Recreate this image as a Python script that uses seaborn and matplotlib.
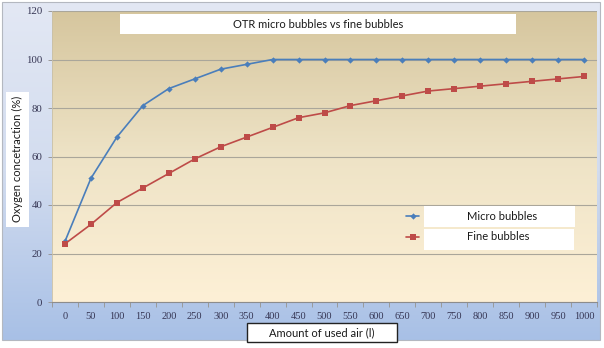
import numpy as np
import pandas as pd
import matplotlib
matplotlib.use('Agg')
import matplotlib.pyplot as plt
import seaborn as sns
from matplotlib.patches import Rectangle
from matplotlib.colors import LinearSegmentedColormap
from matplotlib.ticker import FixedLocator

# ---------------- data ----------------
air = list(range(0, 1001, 50))
micro = [25, 51, 68, 81, 88, 92, 96, 98, 100, 100, 100, 100, 100, 100, 100,
         100, 100, 100, 100, 100, 100]
fine = [24, 32, 41, 47, 53, 59, 64, 68, 72, 76, 78, 81, 83, 85, 87, 88, 89,
        90, 91, 92, 93]
series_names = ['Micro bubbles', 'Fine bubbles']
title = 'OTR micro bubbles vs fine bubbles'
xlabel = 'Amount of used air (l)'
ylabel = 'Oxygen concetraction (%)'
yticks = [0, 20, 40, 60, 80, 100, 120]
xtick_labels = [str(v) for v in air]

df = pd.DataFrame({
    'air': air * 2,
    'value': micro + fine,
    'series': [series_names[0]] * len(air) + [series_names[1]] * len(air),
})

sns.set_theme(style='white')
plt.rcParams['font.family'] = ['Lato', 'DejaVu Sans']

W, H = 604, 348
fig = plt.figure(figsize=(W / 100, H / 100), dpi=100)
fig.patch.set_facecolor('white')


def fx(px):
    return px / W


def fy(py):
    return 1 - py / H


# background of chart frame
bg = fig.add_axes([0, 0, 1, 1], zorder=-10)
bg.set_xlim(0, W)
bg.set_ylim(H, 0)
bg.axis('off')
grad = np.linspace(0, 1, 256).reshape(-1, 1)
cmap_bg = LinearSegmentedColormap.from_list('bg', ['#e3e8f4', '#d2dcef', '#a8c0e6'])
bg.imshow(grad, cmap=cmap_bg, extent=[2, 600, 340, 2], aspect='auto', origin='upper')
bg.add_patch(Rectangle((2, 2), 598, 338, fill=False, edgecolor='#b4b8c0', lw=0.8))
bg.set_xlim(0, W)
bg.set_ylim(H, 0)

# plot area
ax = fig.add_axes([fx(52), fy(302), fx(597) - fx(52), (302 - 11) / H])
ax.set_facecolor('none')
cmap_plot = LinearSegmentedColormap.from_list('pl', ['#d6c69e', '#eee3c6', '#fdf0d6'])
ax.imshow(grad, cmap=cmap_plot, extent=[0, 1, 0, 1], transform=ax.transAxes,
          aspect='auto', origin='upper', zorder=0)

palette = {series_names[0]: '#4a7ebb', series_names[1]: '#be4b48'}
sns.lineplot(data=df, x='air', y='value', hue='series', style='series',
             markers={series_names[0]: 'D', series_names[1]: 's'},
             dashes=False, palette=palette, ax=ax, linewidth=1.2,
             markeredgewidth=0, legend=True)
for ln in ax.lines:
    if ln.get_color() == '#4a7ebb':
        ln.set_markersize(3.2)
    else:
        ln.set_markersize(4.5)

handles, labels = ax.get_legend_handles_labels()
ax.get_legend().remove()

ax.set_xlim(-25, 1025)
ax.set_ylim(0, 120)
ax.set_xticks(air)
ax.set_xticklabels(xtick_labels)
ax.xaxis.set_minor_locator(FixedLocator([a - 25 for a in air] + [1025]))
ax.set_yticks(yticks)
ax.set_xlabel('')
ax.set_ylabel('')
ax.yaxis.grid(True, color='#aaa69a', lw=0.8)
ax.xaxis.grid(False)
ax.set_axisbelow(True)
tick_font = ['Liberation Serif', 'DejaVu Serif']
ax.tick_params(axis='x', which='major', length=0, pad=7, labelsize=7.5,
               labelcolor='#363654')
ax.tick_params(axis='x', which='minor', length=3.5, width=0.7, color='#9a9a9a',
               bottom=True)
ax.tick_params(axis='y', length=3, width=0.7, color='#9a9a9a', pad=4,
               labelsize=7.8, labelcolor='#363654', left=True)
for lab in ax.get_xticklabels() + ax.get_yticklabels():
    lab.set_fontfamily(tick_font)
for s in ['top', 'right']:
    ax.spines[s].set_visible(False)
ax.spines['bottom'].set_color('#8c8c8c')
ax.spines['bottom'].set_linewidth(0.8)
ax.spines['left'].set_color('#c8c0a8')
ax.spines['left'].set_linewidth(0.6)

# title box
fig.add_artist(Rectangle((fx(120), fy(34)), fx(516) - fx(120), 20 / H,
                         transform=fig.transFigure, facecolor='white',
                         edgecolor='none', zorder=3))
fig.text(fx(318), fy(24), title, ha='center', va='center', fontsize=8,
         color='#1a1a1a', zorder=4)

# y label box
fig.add_artist(Rectangle((fx(6), fy(227)), fx(29) - fx(6), 135 / H,
                         transform=fig.transFigure, facecolor='white',
                         edgecolor='none', zorder=3))
fig.text(fx(17.5), fy(159), ylabel, ha='center', va='center', rotation=90,
         fontsize=8, color='#1a1a1a', zorder=4)

# x label box
fig.add_artist(Rectangle((fx(247), fy(342)), fx(397) - fx(247), 19 / H,
                         transform=fig.transFigure, facecolor='white',
                         edgecolor='#222222', lw=1.0, zorder=3))
fig.text(fx(322), fy(332.5), xlabel, ha='center', va='center', fontsize=8,
         color='#1a1a1a', zorder=4)

# legend boxes
fig.add_artist(Rectangle((fx(424), fy(227)), fx(575) - fx(424), 21 / H,
                         transform=fig.transFigure, facecolor='white',
                         edgecolor='none', zorder=3))
fig.add_artist(Rectangle((fx(424), fy(249.5)), fx(574) - fx(424), 21 / H,
                         transform=fig.transFigure, facecolor='white',
                         edgecolor='none', zorder=3))
leg = fig.legend(handles, labels, loc='upper left',
                 bbox_to_anchor=(fx(406), fy(211)), frameon=False,
                 fontsize=8, handlelength=1.2, handletextpad=4.3,
                 labelspacing=0.85, borderpad=0, borderaxespad=0)
leg.set_zorder(5)
for t in leg.get_texts():
    t.set_color('#1a1a1a')

fig.savefig('out.png', dpi=100, facecolor='white')
